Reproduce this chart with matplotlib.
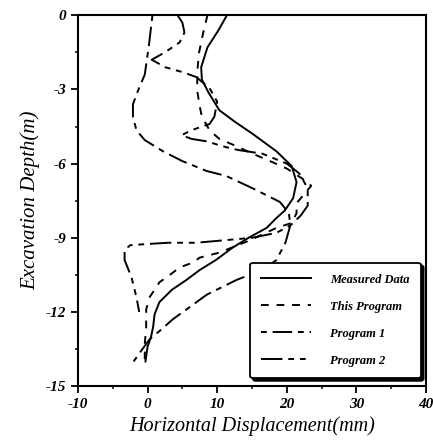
import matplotlib.pyplot as plt
from matplotlib.ticker import MultipleLocator

plt.rcParams['axes.unicode_minus'] = False

# (x in mm, depth in m)
measured_x = [11.4, 10.2, 8.6, 7.7, 7.8, 8.7, 10.3, 12.5, 15.1, 18.5, 20.7, 21.4, 20.9, 19.7,
              18.5, 17.1, 14.5, 12.2, 9.8, 7.5, 5.6, 3.5, 1.7, 1.0, 0.8, 0.5, 0.0, -0.3]
measured_y = [0, -0.6, -1.3, -2.1, -2.6, -3.1, -3.84, -4.3, -4.8, -5.5, -6.1, -6.75, -7.4, -7.9,
              -8.2, -8.6, -9.0, -9.4, -9.9, -10.3, -10.7, -11.1, -11.6, -12.1, -12.6, -13.0, -13.4, -14.0]

this_x = [8.6, 8.0, 7.4, 7.2, 7.1, 7.5, 7.8, 8.9, 10.3, 12.8, 15.1, 18.0, 20.0, 23.0, 23.5, 22.3,
          21.4, 21.4, 20.7, 18.5, 14.7, 10.3, 7.5, 6.5, 4.6, 3.2, 1.7, 0.3, -0.2, -0.2, -0.4, -0.4]
this_y = [0, -0.7, -1.5, -2.1, -3.0, -3.7, -4.1, -4.65, -5.0, -5.3, -5.6, -5.95, -6.2, -6.75, -6.9, -7.3,
          -7.6, -8.0, -8.4, -8.6, -9.1, -9.6, -9.8, -10.0, -10.2, -10.5, -10.8, -11.4, -11.9, -12.6, -13.3, -14.0]

p1_x = [0.7, 0.2, -0.4, -1.3, -2.1, -2.1, -1.6, -0.4, 2.2, 5.0, 8.5, 11.3, 13.2, 15.1, 19.0, 20.3,
        20.5, 19.8, 18.5, 16.5, 12.8, 8.5, 3.6, 2.0, 0.3, -1.0, -2.0]
p1_y = [0, -1.2, -2.4, -3.0, -3.6, -4.1, -4.65, -5.05, -5.5, -5.9, -6.3, -6.5, -6.75, -7.0, -7.55, -8.0,
        -8.5, -9.2, -9.9, -10.3, -10.7, -11.3, -12.3, -12.7, -13.1, -13.6, -14.0]

p2_x = [4.3, 5.0, 5.3, 4.6, 2.5, 0.6, 2.5, 5.0, 7.0, 8.9, 10.0, 9.6, 8.9, 6.3, 4.9, 6.3, 8.5, 10.8,
        13.0, 16.5, 20.0, 21.8, 23.0, 23.0, 22.0, 20.5, 18.5, 15.0, 11.0, 7.0, 3.0, 0.0, -2.5, -3.3,
        -3.3, -2.3, -1.6, -1.2]
p2_y = [0, -0.3, -0.7, -1.1, -1.5, -1.8, -2.1, -2.3, -2.5, -2.95, -3.5, -4.1, -4.4, -4.65, -4.85, -5.0,
        -5.1, -5.3, -5.45, -5.6, -6.0, -6.4, -7.0, -7.7, -8.1, -8.5, -8.8, -9.0, -9.1, -9.2, -9.2, -9.25,
        -9.3, -9.5, -9.9, -10.6, -11.4, -12.0]

serif = 'Liberation Serif'

fig = plt.figure(figsize=(4.33, 4.47), dpi=100)
ax = fig.add_axes([0.18, 0.136, 0.804, 0.83])

ax.plot(measured_x, measured_y, color='black', lw=1.4, label='Measured Data')
ax.plot(this_x, this_y, color='black', lw=1.4, linestyle=(0, (4, 4)), label='This Program')
ax.plot(p1_x, p1_y, color='black', lw=1.4, linestyle=(0, (3, 3, 10, 3)), label='Program 1')
ax.plot(p2_x, p2_y, color='black', lw=1.4, linestyle=(0, (11, 3, 3, 3, 3, 3)), label='Program 2')

ax.set_xlim(-10, 40)
ax.set_ylim(-15, 0)
ax.xaxis.set_major_locator(MultipleLocator(10))
ax.xaxis.set_minor_locator(MultipleLocator(5))
ax.yaxis.set_major_locator(MultipleLocator(3))
ax.yaxis.set_minor_locator(MultipleLocator(1.5))
ax.tick_params(which='major', direction='out', length=5, width=1.3)
ax.tick_params(which='minor', direction='out', length=2.5, width=1.1)
for s in ax.spines.values():
    s.set_linewidth(1.5)

for lab in ax.get_xticklabels() + ax.get_yticklabels():
    lab.set_family(serif)
    lab.set_style('italic')
    lab.set_weight('bold')
    lab.set_fontsize(11)

ax.set_xlabel('Horizontal Displacement(mm)', family=serif, style='italic', fontsize=14.5, labelpad=4)
ax.set_ylabel('Excavation Depth(m)', family=serif, style='italic', fontsize=15, labelpad=4)

leg = ax.legend(loc='lower right', bbox_to_anchor=(0.985, 0.022), borderaxespad=0, fancybox=True,
                shadow={'color': 'black', 'alpha': 1}, framealpha=1, edgecolor='black',
                handlelength=4.0, labelspacing=1.2, borderpad=0.9, handletextpad=1.5,
                prop={'family': serif, 'style': 'italic', 'weight': 'bold', 'size': 9})
leg.get_frame().set_linewidth(1.3)

fig.savefig('out.png', dpi=100)
